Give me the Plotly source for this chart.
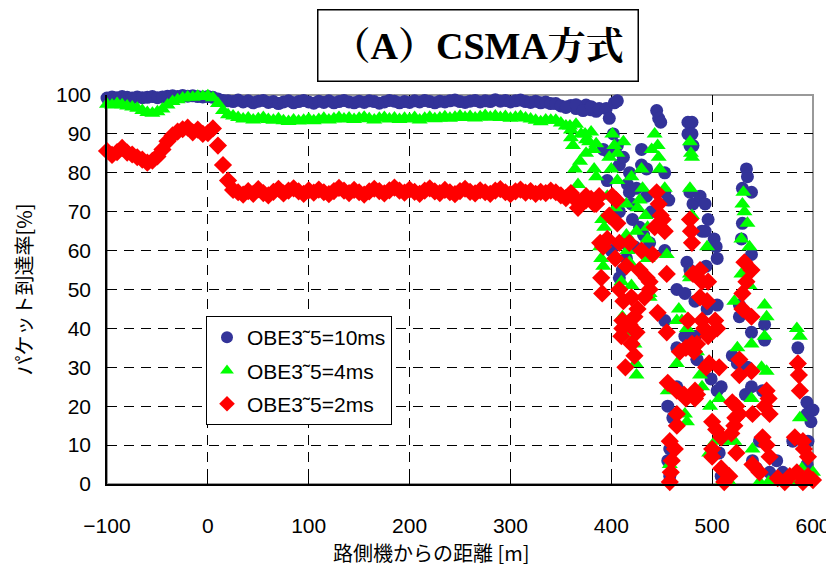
import plotly.graph_objects as go

# ---------------- data ----------------
x_stable = list(range(-100, 390, 5))  # -100 .. 385  (98 positions)

blue_stable = [99.2, 99.5, 99.3, 99.6, 99.4, 99.2, 99.5, 99.3, 99.4, 99.6,
               99.3, 99.5, 99.7, 99.8, 99.6, 99.9, 99.7, 99.8, 99.6, 99.5,
               99.6, 99.4, 99.0, 98.6, 98.5, 98.3, 98.7,
               98.2, 98.5, 98.0, 98.4, 98.6, 98.1, 98.3, 97.8, 98.2, 98.5,
               98.0, 98.3, 98.6, 98.2, 97.9, 98.4, 98.1, 98.5, 98.0, 98.3,
               98.6, 98.2, 98.0, 98.4, 98.1, 98.5, 98.3, 97.9, 98.2, 98.6,
               98.4, 98.0, 98.3, 98.1, 98.5, 98.2, 98.6, 98.3, 98.0, 98.4,
               98.2, 98.5, 98.7, 98.3, 98.1, 98.4, 98.6, 98.2, 98.5, 98.3,
               98.8, 98.4, 98.6, 98.2, 98.5, 98.7, 98.3, 98.1, 98.4, 98.0,
               98.2, 97.8,
               97.8, 97.2, 96.8, 97.3, 96.5, 96.9, 97.4, 96.2, 95.8]

green_stable = [97.6, 97.4, 97.8, 97.5, 97.2, 96.9, 96.6, 96.0, 95.5, 95.3,
                95.7, 96.4, 97.4, 98.3, 98.8, 99.2, 99.5, 99.4, 99.7, 99.6,
                99.8, 99.3, 97.8, 96.0, 94.9, 94.6, 94.2,
                93.8, 94.1, 93.6, 93.9, 94.2, 93.7, 93.5, 93.9, 93.4, 93.2,
                93.6, 93.3, 93.5, 93.8, 93.4, 93.7, 94.0, 93.6, 93.9, 94.2,
                93.8, 94.1, 93.7, 94.0, 94.3, 93.9, 93.6, 94.0, 94.2, 93.8,
                94.1, 93.7, 94.0, 93.8, 94.2, 93.6, 94.0, 94.3, 93.9, 94.1,
                94.4, 94.0, 94.3, 94.6, 94.2, 94.5, 94.1, 94.4, 94.7, 94.3,
                94.6, 94.2, 94.5, 94.0, 94.3, 94.5, 94.1, 93.8, 93.5, 93.1,
                93.6, 93.5,
                93.5, 92.8, 92.0, 91.0, 92.5, 90.0, 88.5, 90.5, 87.5]

red_stable = [85.6, 84.6, 85.3, 86.4, 85.2, 84.7, 84.0, 83.4, 82.6, 83.1,
              84.2, 86.0, 88.1, 89.6, 90.6, 91.2, 91.6, 90.4, 91.1, 90.0,
              90.2, 91.4, 87.0, 82.0, 78.0, 75.6, 75.0,
              74.4, 75.3, 74.6, 75.8, 74.8, 74.2, 75.1, 75.9, 74.7, 75.4,
              76.0, 75.2, 74.6, 75.5, 74.9, 75.7, 75.0, 74.5, 75.3, 76.1,
              75.4, 74.8, 75.6, 75.0, 74.4, 75.2, 75.9, 75.3, 74.7, 75.5,
              76.2, 75.4, 74.9, 75.7, 75.1, 74.6, 75.4, 76.0, 75.2, 74.8,
              75.6, 75.0, 74.5, 75.3, 75.9, 75.1, 74.7, 75.5, 75.0, 74.6,
              75.4, 75.8, 75.0, 74.5, 75.2, 75.7, 74.9, 75.3, 74.6, 75.1,
              74.8, 75.4,
              75.0, 74.2, 73.5, 74.8, 73.0, 72.6, 74.0, 73.3, 72.0]

blue_sc_x = [356, 365, 372, 380, 388, 395, 403, 406, 398, 445, 447, 449, 476, 480, 476, 480, 478, 481,
             430, 392, 398, 406, 408, 418, 430, 435, 396, 416, 418, 425, 435, 408, 421, 453, 453, 457,
             478, 481, 410, 423, 438, 453, 411, 408, 475, 478,
             465, 473, 453, 473, 480, 465, 485, 465, 456, 461, 458, 456, 458,
             488, 493, 496, 490, 493, 502, 504, 505, 494, 534, 535, 530, 539, 530, 529, 539,
             483, 495, 505, 527, 527, 552, 552, 539, 483, 520, 525, 485, 499, 505, 509, 539, 550,
             585, 594, 594, 547, 550, 580, 507, 595, 564, 540, 544, 557, 570, 594, 509, 535, 533,
             600, 598, 402, 412, 420, 428, 440, 432, 415, 400]
blue_sc_y = [97, 97.5, 96, 97, 96.5, 96.5, 98, 98.5, 94, 96, 94, 93, 93, 93, 90, 90, 87, 87,
             86, 86, 85, 87, 82, 80, 82, 81, 78, 77, 75, 76, 74, 70, 68, 80, 75, 73,
             75, 72, 62, 61, 62, 60, 55, 53, 57, 55,
             50, 49, 42, 38, 38, 35, 32, 25, 20, 17, 9, 6, 2,
             74, 72, 68, 65, 65, 63, 61, 58, 56, 81, 79, 76, 75, 67, 63, 59,
             47, 45, 46, 46, 43, 41, 37, 39, 38, 33, 31, 32, 27, 24, 25, 25, 24,
             35, 21, 18, 11, 11, 11, 8, 11, 6, 6, 4, 3, 3, 5, 2, 30, 23,
             19, 16, 90, 84, 72, 66, 70, 64, 58, 60]

green_sc_x = [359, 360, 362, 374, 378, 375, 382, 369, 364, 367, 383, 385,
              401, 403, 406, 398, 400, 406, 430, 431, 428, 426, 443, 446, 447, 448, 453, 415,
              391, 393, 415, 425, 436, 436, 389, 390, 392, 416, 418, 436, 455, 480, 478, 478, 410, 420,
              423, 424, 425, 411, 415, 438, 438, 467, 465, 470, 475, 465, 456, 473, 475, 458, 458,
              480, 478, 478, 479, 495, 531, 530, 532, 535, 529, 537, 529, 537,
              552, 554, 552, 539, 525, 584, 587, 549, 554, 539, 587, 498, 507, 485, 488, 490,
              517, 522, 540, 497, 589, 594, 547, 556, 565, 579, 510, 517, 600, 522, 503,
              396, 404, 412, 420, 440, 434]
green_sc_y = [92, 89, 87, 90, 88, 85, 86, 83, 81, 77, 81, 79,
              90, 87, 85, 84, 81, 78, 81, 76, 73, 71, 90, 87, 84, 81, 76, 72,
              68, 66, 64, 65, 66, 63, 61, 58, 56, 60, 57, 58, 59, 69, 54, 53, 52, 51,
              36, 31, 28, 43, 39, 49, 48, 45, 42, 42, 40, 31, 24, 18, 16, 5, 0.5,
              84, 76, 88, 85, 61, 75, 72, 70, 67, 63, 61, 54, 51,
              46, 43, 38, 36, 35, 40, 38, 30, 29, 22, 17, 20, 22, 34, 28, 25,
              11, 11, 9, 8, 4, 2, 0.5, 0.5, 0.5, 0.5, 0.5, 0.5, 3, 47, 11,
              74, 71, 88, 79, 86, 69]

red_sc_x = [367, 375, 383, 388, 401, 405, 398, 406, 389, 392, 396, 408, 445, 447, 449, 451, 443, 453,
            430, 441, 415, 428, 435, 438, 455, 390, 478, 479, 480, 481,
            391, 408, 412, 420, 426, 438, 411, 418, 423, 411, 425, 410, 455, 476, 423, 468, 474, 480,
            485, 456, 465, 472, 483, 474, 465, 465, 458, 463, 460, 459, 458,
            532, 539, 534, 488, 490, 496,
            488, 495, 530, 530, 539, 490, 492, 503, 505, 496, 480, 482, 497, 507, 494, 527, 539, 527,
            585, 586, 587, 483, 485, 520, 524, 527, 523, 540, 554, 556, 557, 552, 500, 504, 509, 519,
            522, 550, 554, 582, 590, 591, 595, 500, 500, 524, 557, 540, 547, 509, 517, 512, 565, 572,
            577, 584, 595, 590, 600, 404, 418, 433, 446, 414, 420]
red_sc_y = [71, 73, 72, 74, 74, 73, 69, 67, 62, 61, 63, 62, 75, 72, 69, 68, 66, 65,
            60, 59, 56, 55, 53, 52, 54, 53, 68, 65, 62, 54,
            49, 50, 47, 48, 45, 50, 42, 41, 43, 40, 39, 38, 39, 42, 33, 34, 35, 36,
            36, 26, 24, 23, 22, 22, 18, 15, 11, 9, 6, 3, 0.5,
            57, 55, 52, 55, 52, 52,
            48, 47, 49, 45, 43, 42, 40, 42, 40, 38, 35, 34, 31, 30, 30, 32, 29, 28,
            31, 28, 24, 24, 23, 21, 20, 18, 17, 18, 24, 22, 18, 20, 16, 14, 12, 13,
            15, 12, 10, 12, 11, 9, 7, 9, 7, 8, 7, 5, 3, 4, 2, 0.5, 1.5, 0.5,
            2, 3, 2, 0.5, 1, 58, 62, 48, 44, 30, 36]

series_names = ["OBE3˜5=10ms", "OBE3˜5=4ms", "OBE3˜5=2ms"]
x_ticks = [-100, 0, 100, 200, 300, 400, 500, 600]
y_ticks = [0, 10, 20, 30, 40, 50, 60, 70, 80, 90, 100]

# ---------------- figure ----------------
# page body has an 8px margin; figure sized so that it fits the 834x571 window
W, H = 826, 563
ML, MR, MT, MB = 99, 21, 87, 87
PW, PH = W - ML - MR, H - MT - MB

def px_x(px):  # screen pixel -> paper x
    return (px - 8 - ML) / PW

def px_y(py):  # screen pixel -> paper y
    return (H - MB - (py - 8)) / PH

fig = go.Figure()

specs = [
    (series_names[0], x_stable + blue_sc_x, blue_stable + blue_sc_y, "circle", "#333399", 13),
    (series_names[1], x_stable + green_sc_x, green_stable + green_sc_y, "triangle-up", "#00ff00", 14),
    (series_names[2], x_stable + red_sc_x, red_stable + red_sc_y, "diamond", "#ff0000", 14),
]
for i, (name, xs, ys, sym, col, sz) in enumerate(specs):
    fig.add_trace(go.Scatter(
        x=xs, y=ys, mode="markers", name=name, cliponaxis=False, legendgroup=f"g{i}",
        marker=dict(symbol=sym, color=col, size=sz, line=dict(width=0)),
    ))

fig.update_layout(
    width=W, height=H,
    margin=dict(l=ML, r=MR, t=MT, b=MB),
    paper_bgcolor="white", plot_bgcolor="white",
    font=dict(family="Liberation Sans, Arial, sans-serif", color="black"),
    showlegend=True,
    legend=dict(
        x=px_x(206), y=px_y(316), xanchor="left", yanchor="top",
        bgcolor="white", bordercolor="black", borderwidth=1,
        font=dict(size=21, family="Liberation Sans, Arial, sans-serif"),
        itemsizing="constant", tracegroupgap=3,
    ),
    shapes=[dict(type="rect", xref="paper", yref="paper", x0=0, y0=0, x1=1, y1=1,
                 line=dict(color="#999999", width=2), layer="below")],
    annotations=[
        dict(
            text="<b>（A）CSMA方式</b>", xref="paper", yref="paper",
            x=px_x(478), y=px_y(45), xanchor="center", yanchor="middle",
            showarrow=False,
            font=dict(size=38, family="Liberation Serif, Noto Serif CJK JP, Noto Sans CJK JP", color="black"),
            bordercolor="black", borderwidth=1.5, borderpad=14, bgcolor="white",
        ),
        dict(
            text="路側機からの距離 [m]", xref="paper", yref="paper",
            x=px_x(431), y=px_y(552), xanchor="center", yanchor="middle",
            showarrow=False, font=dict(size=20, family="Noto Sans CJK JP", color="black"),
        ),
    ],
)

fig.update_xaxes(
    range=[-100, 600], tickvals=x_ticks, ticks="inside", ticklen=5, tickcolor="black",
    showline=True, linecolor="black", linewidth=1.5, automargin=False,
    showgrid=True, gridcolor="black", gridwidth=1, griddash="10px,7px",
    zeroline=False, tickfont=dict(size=21), ticklabelstandoff=22,
)
fig.update_yaxes(
    range=[0, 100], tickvals=y_ticks, ticks="inside", ticklen=5, tickcolor="black",
    showline=True, linecolor="black", linewidth=1.5, automargin=False,
    showgrid=True, gridcolor="black", gridwidth=1, griddash="10px,7px",
    zeroline=False, tickfont=dict(size=21), ticklabelstandoff=10,
    title=dict(text="パケット到達率[%]", font=dict(size=20, family="Noto Sans CJK JP"), standoff=18),
)

fig.write_html("out.html")
